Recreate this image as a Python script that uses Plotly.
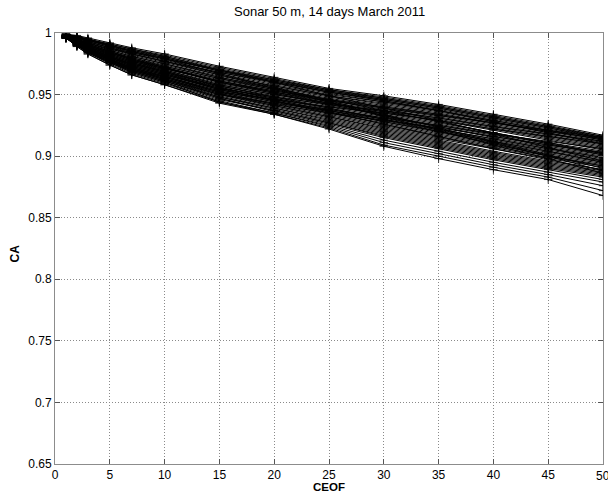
import plotly.graph_objects as go

# Number of CEOF modes retained at each evaluation step
ceof = [1, 2, 3, 5, 7, 10, 15, 20, 25, 30, 35, 40, 45, 50]

# Cumulative agreement (CA) curves, upper bundle
ca_upper = [
    [0.999, 0.998, 0.996, 0.992, 0.988, 0.983, 0.973, 0.964, 0.955, 0.949, 0.942, 0.934, 0.926, 0.917],
    [0.999, 0.997, 0.995, 0.991, 0.987, 0.982, 0.972, 0.963, 0.954, 0.948, 0.941, 0.933, 0.925, 0.916],
    [0.998, 0.997, 0.995, 0.990, 0.986, 0.981, 0.971, 0.962, 0.954, 0.947, 0.940, 0.932, 0.924, 0.915],
    [0.999, 0.997, 0.994, 0.990, 0.985, 0.980, 0.970, 0.962, 0.953, 0.946, 0.939, 0.931, 0.923, 0.914],
    [0.998, 0.996, 0.994, 0.989, 0.985, 0.979, 0.969, 0.960, 0.952, 0.945, 0.938, 0.930, 0.922, 0.914],
    [0.998, 0.996, 0.993, 0.988, 0.984, 0.978, 0.968, 0.959, 0.951, 0.944, 0.937, 0.929, 0.921, 0.913],
    [0.999, 0.996, 0.993, 0.988, 0.983, 0.977, 0.967, 0.958, 0.950, 0.944, 0.937, 0.929, 0.921, 0.913],
    [0.998, 0.995, 0.992, 0.987, 0.982, 0.976, 0.966, 0.957, 0.949, 0.943, 0.936, 0.928, 0.920, 0.912],
    [0.998, 0.995, 0.992, 0.986, 0.981, 0.975, 0.965, 0.957, 0.949, 0.942, 0.935, 0.927, 0.919, 0.911],
    [0.997, 0.994, 0.991, 0.985, 0.980, 0.974, 0.964, 0.956, 0.948, 0.941, 0.934, 0.926, 0.918, 0.910],
    [0.998, 0.995, 0.991, 0.985, 0.980, 0.973, 0.963, 0.955, 0.947, 0.940, 0.933, 0.925, 0.917, 0.909],
    [0.997, 0.994, 0.990, 0.984, 0.979, 0.972, 0.962, 0.954, 0.946, 0.939, 0.932, 0.924, 0.916, 0.908],
    [0.998, 0.994, 0.990, 0.984, 0.978, 0.972, 0.961, 0.953, 0.945, 0.938, 0.931, 0.923, 0.915, 0.907],
    [0.997, 0.993, 0.989, 0.983, 0.977, 0.971, 0.960, 0.952, 0.944, 0.937, 0.930, 0.922, 0.914, 0.906],
    [0.998, 0.995, 0.992, 0.987, 0.983, 0.977, 0.968, 0.960, 0.952, 0.946, 0.939, 0.931, 0.923, 0.915],
    [0.999, 0.997, 0.994, 0.989, 0.984, 0.979, 0.970, 0.961, 0.953, 0.947, 0.940, 0.932, 0.924, 0.916],
]

# Middle bundle
ca_middle = [
    [0.997, 0.993, 0.989, 0.982, 0.976, 0.970, 0.959, 0.951, 0.943, 0.935, 0.927, 0.919, 0.911, 0.904],
    [0.998, 0.994, 0.990, 0.983, 0.977, 0.970, 0.958, 0.950, 0.942, 0.934, 0.926, 0.918, 0.910, 0.903],
    [0.997, 0.993, 0.988, 0.981, 0.975, 0.969, 0.957, 0.949, 0.941, 0.933, 0.925, 0.917, 0.909, 0.902],
    [0.997, 0.992, 0.988, 0.981, 0.975, 0.968, 0.957, 0.948, 0.940, 0.932, 0.924, 0.916, 0.908, 0.901],
    [0.998, 0.994, 0.990, 0.984, 0.978, 0.972, 0.960, 0.951, 0.942, 0.933, 0.924, 0.915, 0.907, 0.900],
    [0.997, 0.992, 0.987, 0.980, 0.974, 0.967, 0.955, 0.947, 0.939, 0.931, 0.922, 0.914, 0.906, 0.899],
    [0.997, 0.993, 0.989, 0.982, 0.976, 0.969, 0.956, 0.947, 0.938, 0.930, 0.921, 0.913, 0.905, 0.898],
    [0.996, 0.992, 0.987, 0.980, 0.973, 0.966, 0.954, 0.946, 0.937, 0.929, 0.920, 0.912, 0.904, 0.897],
    [0.997, 0.992, 0.988, 0.981, 0.974, 0.967, 0.954, 0.945, 0.936, 0.928, 0.919, 0.911, 0.903, 0.896],
    [0.996, 0.991, 0.987, 0.979, 0.972, 0.965, 0.953, 0.944, 0.935, 0.927, 0.918, 0.910, 0.902, 0.895],
    [0.997, 0.993, 0.988, 0.981, 0.975, 0.968, 0.955, 0.945, 0.935, 0.926, 0.917, 0.909, 0.901, 0.894],
    [0.996, 0.991, 0.986, 0.978, 0.971, 0.964, 0.952, 0.943, 0.934, 0.925, 0.916, 0.908, 0.900, 0.893],
    [0.997, 0.992, 0.987, 0.979, 0.972, 0.965, 0.952, 0.942, 0.933, 0.924, 0.915, 0.907, 0.899, 0.892],
    [0.996, 0.991, 0.986, 0.978, 0.971, 0.963, 0.951, 0.941, 0.932, 0.923, 0.914, 0.906, 0.898, 0.891],
]

# Lower bundle
ca_lower = [
    [0.996, 0.991, 0.986, 0.978, 0.970, 0.963, 0.950, 0.941, 0.932, 0.922, 0.913, 0.904, 0.896, 0.889],
    [0.997, 0.992, 0.987, 0.979, 0.971, 0.963, 0.950, 0.940, 0.931, 0.921, 0.912, 0.903, 0.895, 0.888],
    [0.996, 0.990, 0.985, 0.977, 0.970, 0.962, 0.949, 0.939, 0.930, 0.920, 0.911, 0.902, 0.894, 0.887],
    [0.996, 0.991, 0.986, 0.978, 0.970, 0.962, 0.948, 0.939, 0.929, 0.919, 0.910, 0.901, 0.893, 0.886],
    [0.997, 0.991, 0.985, 0.977, 0.969, 0.961, 0.948, 0.938, 0.928, 0.918, 0.909, 0.900, 0.892, 0.885],
    [0.996, 0.990, 0.985, 0.976, 0.969, 0.961, 0.947, 0.937, 0.927, 0.917, 0.908, 0.899, 0.891, 0.884],
    [0.996, 0.990, 0.984, 0.976, 0.968, 0.960, 0.946, 0.937, 0.927, 0.916, 0.907, 0.898, 0.890, 0.883],
    [0.997, 0.991, 0.985, 0.977, 0.969, 0.961, 0.947, 0.936, 0.926, 0.915, 0.906, 0.897, 0.889, 0.881],
    [0.996, 0.990, 0.984, 0.975, 0.967, 0.959, 0.945, 0.935, 0.925, 0.913, 0.904, 0.895, 0.887, 0.879],
    [0.996, 0.989, 0.983, 0.974, 0.966, 0.958, 0.944, 0.935, 0.924, 0.911, 0.902, 0.893, 0.885, 0.876],
    [0.996, 0.989, 0.983, 0.974, 0.966, 0.958, 0.943, 0.934, 0.923, 0.909, 0.900, 0.891, 0.883, 0.872],
    [0.996, 0.990, 0.984, 0.976, 0.968, 0.960, 0.944, 0.934, 0.922, 0.908, 0.898, 0.889, 0.881, 0.868],
]

# Curves that change rank across the bundle
ca_crossing = [
    [0.997, 0.992, 0.987, 0.980, 0.973, 0.966, 0.955, 0.948, 0.942, 0.937, 0.931, 0.924, 0.918, 0.912],
    [0.996, 0.991, 0.986, 0.978, 0.971, 0.964, 0.952, 0.946, 0.940, 0.935, 0.929, 0.922, 0.916, 0.910],
    [0.999, 0.997, 0.995, 0.991, 0.987, 0.981, 0.970, 0.960, 0.949, 0.939, 0.929, 0.918, 0.907, 0.896],
    [0.998, 0.996, 0.994, 0.990, 0.985, 0.979, 0.967, 0.956, 0.945, 0.934, 0.923, 0.912, 0.901, 0.890],
    [0.997, 0.994, 0.991, 0.985, 0.979, 0.972, 0.960, 0.952, 0.945, 0.939, 0.933, 0.927, 0.920, 0.914],
    [0.998, 0.995, 0.991, 0.985, 0.979, 0.973, 0.963, 0.954, 0.944, 0.933, 0.922, 0.911, 0.900, 0.888],
    [0.997, 0.993, 0.989, 0.982, 0.976, 0.969, 0.958, 0.950, 0.943, 0.936, 0.929, 0.921, 0.913, 0.905],
    [0.996, 0.990, 0.985, 0.977, 0.970, 0.962, 0.950, 0.943, 0.937, 0.930, 0.922, 0.914, 0.906, 0.899],
    [0.998, 0.996, 0.993, 0.988, 0.983, 0.977, 0.966, 0.955, 0.944, 0.932, 0.921, 0.909, 0.898, 0.886],
    [0.997, 0.994, 0.990, 0.984, 0.978, 0.971, 0.961, 0.953, 0.946, 0.940, 0.934, 0.927, 0.921, 0.915],
    [0.996, 0.991, 0.987, 0.980, 0.973, 0.966, 0.954, 0.945, 0.936, 0.926, 0.916, 0.906, 0.897, 0.889],
    [0.997, 0.993, 0.989, 0.983, 0.977, 0.971, 0.961, 0.952, 0.943, 0.936, 0.928, 0.919, 0.911, 0.902],
    [0.996, 0.991, 0.986, 0.979, 0.972, 0.965, 0.953, 0.944, 0.938, 0.931, 0.925, 0.918, 0.912, 0.906],
    [0.998, 0.995, 0.992, 0.986, 0.981, 0.975, 0.964, 0.955, 0.946, 0.937, 0.928, 0.919, 0.910, 0.901],
    [0.999, 0.997, 0.995, 0.990, 0.986, 0.980, 0.969, 0.961, 0.952, 0.945, 0.937, 0.928, 0.919, 0.910],
    [0.997, 0.992, 0.988, 0.981, 0.974, 0.967, 0.956, 0.946, 0.937, 0.928, 0.920, 0.912, 0.904, 0.895],
    [0.996, 0.992, 0.987, 0.979, 0.972, 0.964, 0.951, 0.942, 0.935, 0.929, 0.923, 0.916, 0.909, 0.903],
    [0.997, 0.993, 0.988, 0.981, 0.975, 0.968, 0.957, 0.948, 0.939, 0.930, 0.920, 0.910, 0.900, 0.892],
]

x_ticks = [0, 5, 10, 15, 20, 25, 30, 35, 40, 45, 50]
y_ticks = [0.65, 0.7, 0.75, 0.8, 0.85, 0.9, 0.95, 1]
y_tick_text = ["0.65", "0.7", "0.75", "0.8", "0.85", "0.9", "0.95", "1"]

FONT = "Liberation Sans, Arial, sans-serif"

fig = go.Figure()
for curve in ca_upper + ca_middle + ca_lower + ca_crossing:
    fig.add_trace(go.Scatter(
        x=ceof, y=curve, mode="lines+markers",
        line=dict(color="black", width=1.0),
        marker=dict(symbol="cross-thin", size=6, color="black",
                    line=dict(color="black", width=0.8)),
        showlegend=False, hoverinfo="skip",
    ))

axis_common = dict(
    showline=True, mirror="ticks", linecolor="#8c8c8c", linewidth=1,
    ticks="inside", ticklen=5, tickcolor="#555", tickwidth=1,
    showgrid=True, gridcolor="#8a8a8a", griddash="1px,2px", gridwidth=1,
    zeroline=False, tickfont=dict(family=FONT, size=12, color="black"),
)

# The last x tick label sits on the right edge of the page, so it is
# drawn as an annotation that is allowed to run past the plot area.
x_tick_text = [str(v) for v in x_ticks[:-1]] + [""]

fig.update_layout(
    width=608, height=495,
    margin=dict(l=55, r=5, t=33, b=31),
    paper_bgcolor="white", plot_bgcolor="white",
    xaxis=dict(range=[0, 50], tickvals=x_ticks, ticktext=x_tick_text, **axis_common),
    yaxis=dict(range=[0.65, 1], tickvals=y_ticks, ticktext=y_tick_text, **axis_common),
    annotations=[
        dict(text=str(x_ticks[-1]), xref="x", yref="paper", x=x_ticks[-1], y=0,
             yanchor="top", yshift=-3, showarrow=False,
             font=dict(family=FONT, size=12, color="black")),
        dict(text="Sonar 50 m, 14 days March 2011", xref="paper", yref="paper",
             x=0.5, y=1, yanchor="bottom", yshift=12, showarrow=False,
             font=dict(family=FONT, size=13, color="black")),
        dict(text="<b>CEOF</b>", xref="paper", yref="paper",
             x=0.5, y=0, yanchor="top", yshift=-15, showarrow=False,
             font=dict(family=FONT, size=11.5, color="black")),
        dict(text="<b>CA</b>", xref="paper", yref="paper", textangle=-90,
             x=0, xanchor="right", xshift=-32, y=0.5, yshift=-5, showarrow=False,
             font=dict(family=FONT, size=12, color="black")),
    ],
)

fig.write_html("out.html")
